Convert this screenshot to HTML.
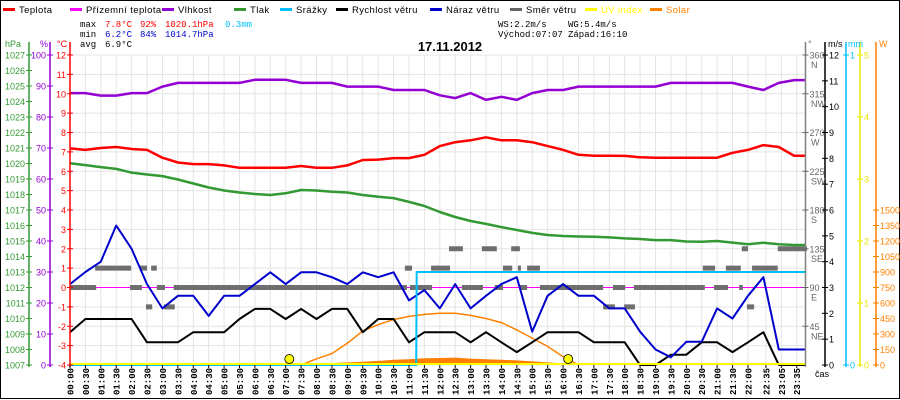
<!DOCTYPE html>
<html><head><meta charset="utf-8">
<style>
html,body{margin:0;padding:0;background:#fff;}
svg{display:block;font-family:"Liberation Sans",sans-serif;}
</style></head>
<body>
<svg id="chart" width="900" height="400" viewBox="0 0 900 400">
<rect x="0.5" y="0.5" width="899" height="398" fill="#fff" stroke="#000"/>
<g id="grid"></g>
<g id="series"></g>
<g id="axes"></g>
<g id="legend" font-size="9.5"></g>
<g font-family="Liberation Mono, monospace" font-size="9">
<text x="80" y="27">max</text>
<text x="105" y="27" fill="#f00">7.8°C</text>
<text x="140" y="27" fill="#f00">92%</text>
<text x="165" y="27" fill="#f00">1020.1hPa</text>
<text x="225" y="27" fill="#00bfff">0.3mm</text>
<text x="80" y="37">min</text>
<text x="105" y="37" fill="#00c">6.2°C</text>
<text x="140" y="37" fill="#00c">84%</text>
<text x="165" y="37" fill="#00c">1014.7hPa</text>
<text x="80" y="47">avg</text>
<text x="105" y="47">6.9°C</text>
<text x="498" y="27">WS:2.2m/s</text>
<text x="568" y="27">WG:5.4m/s</text>
<text x="498" y="37">Východ:07:07</text>
<text x="568" y="37">Západ:16:10</text>
</g>
<text x="450" y="51" text-anchor="middle" font-size="13" font-weight="bold">17.11.2012</text>
</svg>
<script>
const NS='http://www.w3.org/2000/svg';
// half-hour samples 00:00..23:30
const temperature=[7.18,7.1,7.2,7.25,7.15,7.1,6.7,6.45,6.37,6.37,6.3,6.18,6.18,6.18,6.18,6.27,6.18,6.18,6.3,6.58,6.6,6.68,6.68,6.85,7.3,7.5,7.6,7.75,7.6,7.6,7.5,7.3,7.1,6.85,6.8,6.8,6.79,6.72,6.7,6.7,6.7,6.7,6.7,6.95,7.1,7.35,7.25,6.8];
const humidity=[87.7,87.7,86.9,86.9,87.7,87.7,89.8,91,91,91,91,91,92,92,92,91,91,91,89.8,89.8,89.8,88.7,88.7,88.7,87,86.1,87.7,85.5,86.5,85.5,87.7,88.7,88.7,89.8,89.8,89.8,89.8,89.8,89.8,91,91,91,91,91,89.8,88.7,91,91.9];
const pressure=[1020.01,1019.9,1019.77,1019.65,1019.41,1019.29,1019.19,1018.97,1018.71,1018.45,1018.26,1018.13,1018.03,1017.97,1018.08,1018.29,1018.26,1018.18,1018.13,1017.97,1017.86,1017.77,1017.52,1017.26,1016.87,1016.55,1016.29,1016.1,1015.9,1015.71,1015.52,1015.39,1015.32,1015.29,1015.28,1015.23,1015.17,1015.13,1015.06,1015.06,1014.97,1014.95,1015.0,1014.9,1014.79,1014.89,1014.79,1014.74];
const windSpeed=[1.27,1.78,1.78,1.78,1.78,0.88,0.88,0.88,1.27,1.27,1.27,1.78,2.17,2.17,1.78,2.17,1.78,2.17,2.17,1.27,1.78,1.78,0.88,1.27,1.27,1.27,0.88,1.27,0.88,0.5,0.88,1.27,1.27,1.27,0.88,0.88,0.88,0,0,0.4,0.4,0.88,0.88,0.5,0.88,1.27,0,0];
const windGust=[3.13,3.6,4.0,5.4,4.5,3.13,2.19,2.68,2.68,1.9,2.68,2.68,3.13,3.59,3.13,3.59,3.59,3.4,3.13,3.59,3.4,3.59,2.5,2.9,2.19,3.13,2.19,2.68,3.13,3.4,1.29,2.68,3.13,2.68,2.68,2.19,2.19,1.29,0.6,0.3,0.9,0.9,2.19,1.8,2.68,3.4,0.6,0.6];
const solarMax=[0,0,0,0,0,0,0,0,0,0,0,0,0,0,0,0,60,110,210,330,390,440,470,490,500,500,480,450,410,340,260,180,80,0,0,0,0,0,0,0,0,0,0,0,0,0,0,0];
const solar=[0,0,0,0,0,0,0,0,0,0,0,0,0,0,0,0,8,18,25,32,40,50,55,65,68,72,62,55,50,45,35,25,15,0,0,0,0,0,0,0,0,0,0,0,0,0,0,0];
// wind direction segments (minutes from midnight, degrees)
const dirStart=[0,49,117,136,148,158,169,183,202,652,662,703,738,763,802,827,843,859,872,876,890,915,1038,1057,1079,1098,1232,1254,1277,1303,1308,1318,1328,1378];
const dirEnd=[51,119,140,150,160,169,185,204,656,666,705,740,765,804,831,843,861,876,878,890,915,1038,1061,1081,1100,1236,1256,1281,1306,1310,1320,1332,1378,1435];
const dirDeg=[90,112.5,90,112.5,67.5,112.5,90,67.5,90,112.5,90,112.5,135,90,135,90,112.5,135,112.5,90,112.5,90,67.5,90,67.5,90,112.5,90,112.5,90,135,67.5,112.5,135];
// rain cumulative (minutes, mm)
const rainTimes=[0,674,675,1431];
const rainMm=[0,0,0.3,0.3];
const sunEvents=[427,970];
const xLabels=['00:00','00:30','01:00','01:30','02:00','02:30','03:00','03:30','04:00','04:30','05:00','05:30','06:00','06:30','07:00','07:30','08:00','08:30','09:00','09:30','10:00','10:30','11:00','11:30','12:00','12:30','13:00','13:30','14:00','14:30','15:00','15:30','16:00','16:30','17:00','17:30','18:00','18:30','19:00','19:30','20:00','20:30','21:00','21:30','22:00','22:35','23:05','23:35'];
const hpaTicks=[1027,1026,1025,1024,1023,1022,1021,1020,1019,1018,1017,1016,1015,1014,1013,1012,1011,1010,1009,1008,1007];
const pctTicks=[100,90,80,70,60,50,40,30,20,10,0];
const tempTicks=[12,11,10,9,8,7,6,5,4,3,2,1,0,-1,-2,-3,-4];
const degTicks=[360,315,270,225,180,135,90,45];
const degNames=['N','NW','W','SW','S','SE','E','NE'];
const msTicks=[12,11,10,9,8,7,6,5,4,3,2,1,0];
const uvTicks=[5,4,3,2,1,0];
const wTicks=[1500,1350,1200,1050,900,750,600,450,300,150,0];

const T0=55,B0=365,H=310,END=1431;
const xT=m=>70+m*0.5136;
const yTemp=v=>T0+(12-v)/16*H;
const yPct=v=>T0+(100-v)/100*H;
const yHpa=v=>T0+(1027-v)/20*H;
const yMs=v=>B0-v/12*H;
const yDeg=v=>B0-v/360*H;
const yMm=v=>B0-v*H;
const yUv=v=>B0-v/5*H;
const yW=v=>B0-v/3000*H;

function el(tag,attrs,parent,text){const e=document.createElementNS(NS,tag);for(const k in attrs)e.setAttribute(k,attrs[k]);if(text!==undefined)e.textContent=text;parent.appendChild(e);return e;}
const grid=document.getElementById('grid'),ser=document.getElementById('series'),axes=document.getElementById('axes'),leg=document.getElementById('legend');

tempTicks.forEach(t=>{const l=el('line',{x1:70,x2:805,y1:yTemp(t),y2:yTemp(t),stroke:'#e4e4e4'},grid);

});
const labelMins=xLabels.map(s=>{const p=s.split(':');return +p[0]*60+ +p[1];});
labelMins.forEach(m=>{const l=el('line',{x1:xT(m),x2:xT(m),y1:T0,y2:B0,stroke:'#e4e4e4'},grid);

});

function pts(arr,yf){const p=arr.map((v,i)=>xT(i*30).toFixed(1)+','+yf(v).toFixed(1));p.push(xT(END).toFixed(1)+','+yf(arr[arr.length-1]).toFixed(1));return p.join(' ');}
function line(arr,yf,color,w,name){const l=el('polyline',{points:pts(arr,yf),fill:'none',stroke:color,'stroke-width':w,'stroke-linejoin':'round'},ser);

}

const gt=el('line',{x1:70,x2:805,y1:yTemp(0),y2:yTemp(0),stroke:'#f0f','stroke-width':1},ser);


{let p=solar.map((v,i)=>xT(i*30).toFixed(1)+','+yW(v).toFixed(1));p.unshift(xT(0)+','+B0);p.push(xT(47*30)+','+B0);
const a=el('polygon',{points:p.join(' '),fill:'#ff8000'},ser);

}
{const p=[];solarMax.forEach((v,i)=>{if(v>0||(solarMax[i-1]>0)||(solarMax[i+1]>0))p.push(xT(i*30).toFixed(1)+','+yW(v).toFixed(1));});
const l=el('polyline',{points:p.join(' '),fill:'none',stroke:'#ff8000','stroke-width':1.5},ser);

}
dirDeg.forEach((d,i)=>{const r=el('rect',{x:xT(dirStart[i]),y:yDeg(d)-2.5,width:xT(dirEnd[i])-xT(dirStart[i]),height:5,fill:'#6e6e6e'},ser);

});
line(windSpeed,yMs,'#000',2,'wind-speed-line');
line(windGust,yMs,'#0000cc',2,'wind-gust-line');
line(pressure,yHpa,'#339933',2.5,'pressure-line');
line(humidity,yPct,'#9400d3',2.5,'humidity-line');
line(temperature,yTemp,'#f00',2.5,'temperature-line');
{const p=rainTimes.map((m,i)=>xT(m).toFixed(1)+','+yMm(rainMm[i]).toFixed(1)).join(' ');
const l=el('polyline',{points:p,fill:'none',stroke:'#00bfff','stroke-width':2},ser);

}
const uv=el('line',{x1:70,x2:805,y1:B0-1,y2:B0-1,stroke:'#ffff00','stroke-width':2},ser);


sunEvents.forEach(m=>{const c=el('circle',{cx:xT(m),cy:359,r:4.5,fill:'#ffff00',stroke:'#000','stroke-width':0.8},ser);

});

function vAxis(x,color,name){const l=el('line',{x1:x,x2:x,y1:T0-13,y2:B0+2,stroke:color,'stroke-width':1.5},axes);

}
function tick(x,y,color,label,side,name){el('line',{x1:x-3,x2:x+3,y1:y,y2:y,stroke:color},axes);
const t=el('text',{x:side<0?x-4:x+4,y:y+3.5,fill:color,'font-size':9,'text-anchor':side<0?'end':'start'},axes,label);

}
vAxis(29,'#339933','pressure-axis');vAxis(50,'#9400d3','humidity-axis');vAxis(70,'#f00','temperature-axis');
vAxis(805.5,'#808080','direction-axis');vAxis(825,'#000','wind-speed-axis');vAxis(846,'#00bfff','rain-axis');vAxis(860,'#e8e800','uv-axis');vAxis(876,'#ff8000','solar-axis');
hpaTicks.forEach(v=>tick(29,yHpa(v),'#339933',String(v),-1,'pressure-tick-label'));
pctTicks.forEach(v=>tick(50,yPct(v),'#9400d3',String(v),-1,'humidity-tick-label'));
tempTicks.forEach(v=>tick(70,yTemp(v),'#f00',String(v),-1,'temperature-tick-label'));
degTicks.forEach((v,i)=>{tick(805.5,yDeg(v),'#666',String(v),1,'direction-tick-label');
const t=el('text',{x:811,y:yDeg(v)+13,fill:'#666','font-size':9},axes,degNames[i]);

});
msTicks.forEach(v=>tick(825,yMs(v),'#000',String(v),1,'wind-speed-tick-label'));
[1,0].forEach(v=>tick(846,yMm(v),'#00bfff',String(v),1,'rain-tick-label'));
uvTicks.forEach(v=>tick(860,yUv(v),'#e8e800',String(v),1,'uv-tick-label'));
wTicks.forEach(v=>tick(876,yW(v),'#ff8000',String(v),1,'solar-tick-label'));
[['hPa',5,'#339933'],['%',40,'#9400d3'],['°C',57,'#f00'],['°',808,'#666'],['m/s',828,'#000'],['mm',848,'#00bfff'],['W',879,'#ff8000']].forEach(h=>{
const t=el('text',{x:h[1],y:47,fill:h[2],'font-size':9},axes,h[0]);

});
xLabels.forEach((s,i)=>{const x=xT(labelMins[i])+3.5;
el('line',{x1:x-3.5,x2:x-3.5,y1:B0,y2:B0+3,stroke:'#000'},axes);
const t=el('text',{x:x,y:395,'font-size':9,'font-weight':'bold','font-family':'Liberation Mono, monospace',transform:'rotate(-90 '+x+' 395)'},axes,s);

});
{const t=el('text',{x:815,y:377,'font-size':9},axes,'čas');

}

const legNames=['Teplota','Přízemní teplota','Vlhkost','Tlak','Srážky','Rychlost větru','Náraz větru','Směr větru','UV index','Solar'];
const legColors=['#f00','#f0f','#9400d3','#339933','#00bfff','#000','#0000cc','#666','#ffff00','#ff8000'];
const legX=[3,70,162,234,280,336,430,510,585,650];
legNames.forEach((n,i)=>{const g=el('g',{},leg);


el('rect',{x:legX[i],y:8,width:12,height:3,fill:legColors[i]},g);
el('text',{x:legX[i]+16,y:13,fill:(i>=8?legColors[i]:'#000'),'letter-spacing':0.4},g,n);});
</script>
</body></html>
